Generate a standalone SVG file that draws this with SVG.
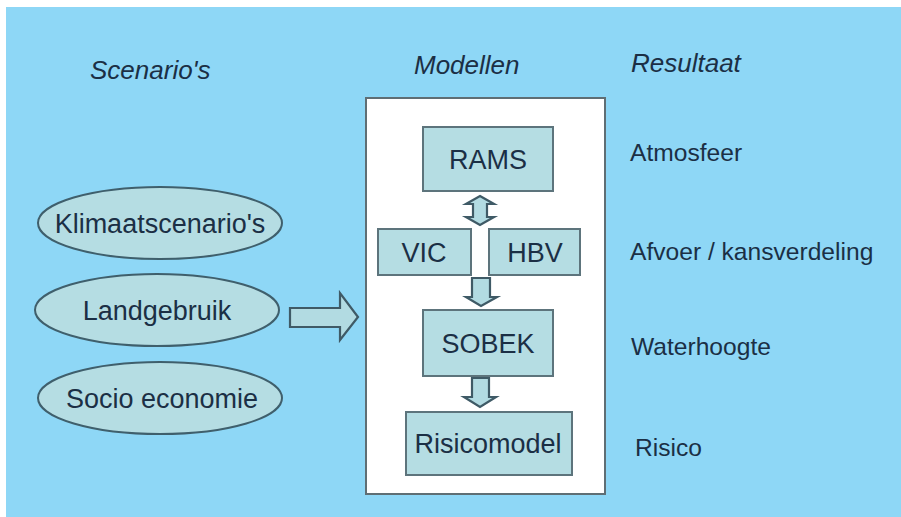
<svg xmlns="http://www.w3.org/2000/svg" width="901" height="517" viewBox="0 0 901 517">
<style>
  .txt { font-family: "Liberation Sans", Arial, sans-serif; fill: #1b2f45; }
  .head { font-size: 26px; font-style: italic; }
  .node { font-size: 27px; text-anchor: middle; }
  .res { font-size: 24.6px; }
  .box { fill: #b5dde3; stroke: #5d747c; stroke-width: 2; }
  .ell { fill: #b5dde3; stroke: #3f5f6c; stroke-width: 2; }
  .arr { fill: #b2dbe2; stroke: #3f5a66; stroke-width: 2.2; stroke-linejoin: miter; }
</style>
<rect x="0" y="0" width="901" height="517" fill="#ffffff"/>
<rect x="6" y="7" width="895" height="510" fill="#8ed7f6"/>

<g id="headers">
  <text class="txt head" x="90" y="79">Scenario's</text>
  <text class="txt head" x="414" y="74">Modellen</text>
  <text class="txt head" x="631" y="72">Resultaat</text>
</g>

<g id="modellen-frame">
  <rect x="366" y="98" width="239" height="396" fill="#ffffff" stroke="#5f6e74" stroke-width="2"/>
</g>

<g id="node-klimaat">
  <ellipse class="ell" cx="160" cy="223" rx="122" ry="36"/>
  <text class="txt node" x="160" y="233">Klimaatscenario's</text>
</g>
<g id="node-landgebruik">
  <ellipse class="ell" cx="157" cy="310" rx="122" ry="36"/>
  <text class="txt node" x="157" y="320">Landgebruik</text>
</g>
<g id="node-socio">
  <ellipse class="ell" cx="160" cy="398" rx="122" ry="36"/>
  <text class="txt node" x="162" y="408">Socio economie</text>
</g>

<g id="node-rams">
  <rect class="box" x="423" y="127" width="130" height="64"/>
  <text class="txt node" x="488" y="169">RAMS</text>
</g>
<g id="node-vic">
  <rect class="box" x="378" y="229" width="93" height="46"/>
  <text class="txt node" x="424" y="262">VIC</text>
</g>
<g id="node-hbv">
  <rect class="box" x="489" y="229" width="91" height="46"/>
  <text class="txt node" x="535" y="262">HBV</text>
</g>
<g id="node-sobek">
  <rect class="box" x="423" y="310" width="130" height="66"/>
  <text class="txt node" x="488" y="353">SOBEK</text>
</g>
<g id="node-risicomodel">
  <rect class="box" x="406" y="412" width="166" height="63"/>
  <text class="txt node" x="488" y="453">Risicomodel</text>
</g>

<g id="connectors">
  <path class="arr" d="M290,308 H340 V293 L358,317 L340,340 V327 H290 Z"/>
  <path class="arr" d="M480,196 L494,204 H487 V217 H494 L480,225 L466,217 H473 V204 H466 Z"/>
  <path class="arr" d="M472,278 H490 V297 H497 L481,306 L466,297 H472 Z"/>
  <path class="arr" d="M472,378 H489 V397 H496 L480,407 L464,397 H472 Z"/>
</g>

<g id="results">
  <text class="txt res" x="630" y="161">Atmosfeer</text>
  <text class="txt res" x="630" y="260">Afvoer / kansverdeling</text>
  <text class="txt res" x="631" y="355">Waterhoogte</text>
  <text class="txt res" x="635" y="456">Risico</text>
</g>
</svg>
